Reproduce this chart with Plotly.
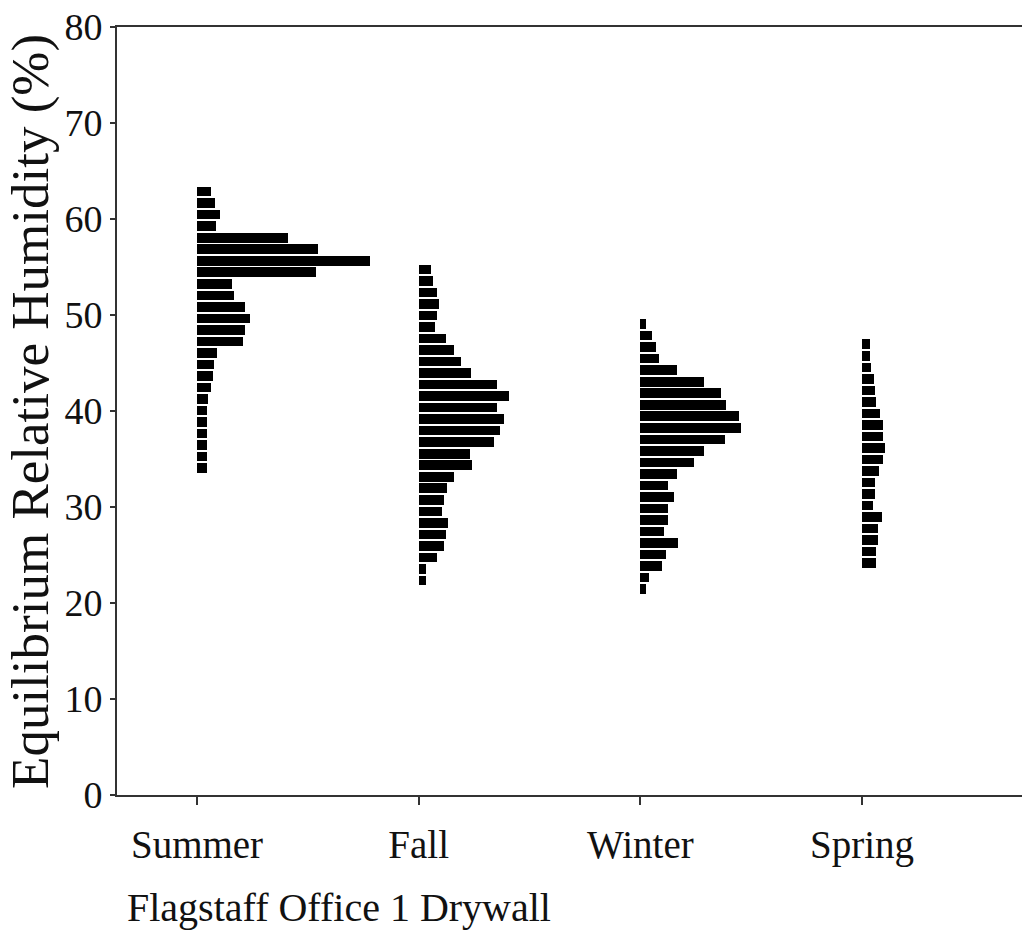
import plotly.graph_objects as go

# ---- data ----
seasons = ["Summer", "Fall", "Winter", "Spring"]
season_pos = [1, 2, 3, 4]

# bin centres (% ERH) and bar lengths (relative frequency counts)
summer_rh = [63.3, 62.1, 60.9, 59.7, 58.5, 57.3, 56.1, 54.9, 53.7, 52.5, 51.3, 50.1, 48.9,
             47.7, 46.5, 45.3, 44.1, 42.9, 41.7, 40.5, 39.3, 38.1, 36.9, 35.7, 34.5]
summer_cnt = [14, 18, 23, 19, 91, 121, 173, 119, 35, 37, 48, 53, 48,
              46, 20, 17, 16, 14, 11, 10, 10, 10, 10, 10, 10]

fall_rh = [54.9, 53.7, 52.5, 51.3, 50.1, 48.9, 47.7, 46.5, 45.3, 44.1, 42.9, 41.7, 40.5, 39.3,
           38.1, 36.9, 35.7, 34.5, 33.3, 32.1, 30.9, 29.7, 28.5, 27.3, 26.1, 24.9, 23.7, 22.5]
fall_cnt = [12, 14, 18, 20, 18, 16, 27, 35, 42, 52, 78, 90, 78, 85,
            81, 75, 51, 53, 35, 28, 25, 23, 29, 27, 25, 18, 7, 7]

winter_rh = [48.9, 47.7, 46.5, 45.3, 44.1, 42.9, 41.7, 40.5, 39.3, 38.1, 36.9, 35.7,
             34.5, 33.3, 32.1, 30.9, 29.7, 28.5, 27.3, 26.1, 24.9, 23.7, 22.5, 21.3]
winter_cnt = [6, 12, 16, 19, 37, 64, 81, 86, 99, 101, 85, 64,
              54, 37, 28, 34, 28, 28, 24, 38, 26, 22, 9, 6]

spring_rh = [46.5, 45.3, 44.1, 42.9, 41.7, 40.5, 39.3, 38.1, 36.9, 35.7,
             34.5, 33.3, 32.1, 30.9, 29.7, 28.5, 27.3, 26.1, 24.9, 23.7]
spring_cnt = [8, 8, 9, 12, 13, 14, 18, 21, 21, 23,
              21, 17, 13, 13, 11, 20, 16, 16, 14, 14]

y_ticks = [0, 10, 20, 30, 40, 50, 60, 70, 80]

# ---- styling ----
SCALE = 1 / 221.67          # counts -> category-axis units
BAR_W = 1.0
FONT = "Liberation Serif"
INK = "#111111"

fig = go.Figure()
for pos, rh, cnt in zip(season_pos,
                        [summer_rh, fall_rh, winter_rh, spring_rh],
                        [summer_cnt, fall_cnt, winter_cnt, spring_cnt]):
    fig.add_trace(go.Bar(
        orientation="h", y=rh, x=[c * SCALE for c in cnt], base=pos,
        width=BAR_W, marker=dict(color="black", line=dict(width=0)),
        showlegend=False, hoverinfo="skip"))

fig.update_layout(
    width=1022, height=939,
    margin=dict(l=117, r=0, t=27, b=144),
    paper_bgcolor="white", plot_bgcolor="white",
    font=dict(family=FONT, color=INK),
    bargap=0,
    xaxis=dict(
        range=[0.639, 4.722], tickmode="array", tickvals=season_pos, ticktext=seasons,
        ticks="outside", ticklen=8, tickwidth=2, tickcolor="#333",
        showline=True, linewidth=2, linecolor="#333", mirror=True,
        showgrid=False, zeroline=False, ticklabelstandoff=6,
        tickfont=dict(family=FONT, size=39, color=INK),
    ),
    yaxis=dict(
        range=[0, 80], tickmode="array", tickvals=y_ticks,
        ticks="outside", ticklen=5, tickwidth=2, tickcolor="#333",
        showline=True, linewidth=2, linecolor="#333", mirror=False,
        showgrid=False, zeroline=False,
        tickfont=dict(family=FONT, size=38, color=INK),
    ),
    annotations=[
        dict(text="Equilibrium Relative Humidity (%)", textangle=-90,
             xref="paper", yref="paper", x=(31 - 117) / 905, y=0.4987,
             xanchor="center", yanchor="middle", showarrow=False,
             font=dict(family=FONT, size=53, color=INK)),
        dict(text="Flagstaff Office 1 Drywall",
             xref="paper", yref="paper", x=(125 - 117) / 905, y=(795 - 907) / 768,
             xanchor="left", yanchor="middle", showarrow=False,
             font=dict(family=FONT, size=40, color=INK)),
    ],
)

fig.write_html("out.html")
